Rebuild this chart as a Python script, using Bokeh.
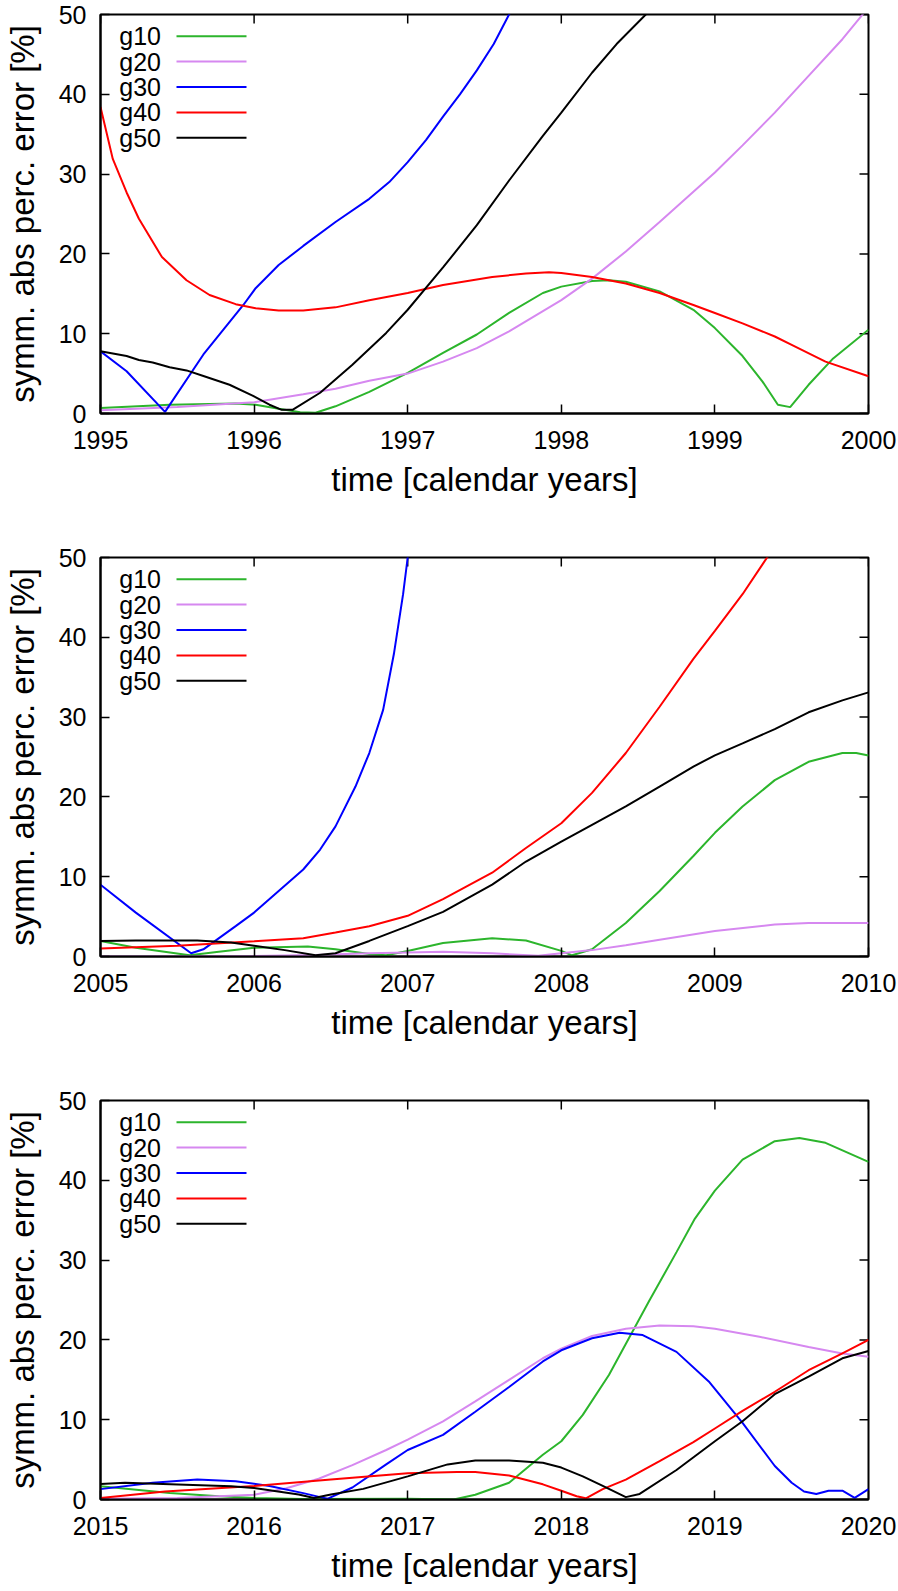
from bokeh.plotting import figure
from bokeh.models import FixedTicker, PrintfTickFormatter, Label, Range1d
from bokeh.layouts import column
from bokeh.embed import file_html
from bokeh.resources import INLINE

SERIES = ["g10", "g20", "g30", "g40", "g50"]
COLORS = ["#2cb52c", "#d688f0", "#0000ff", "#ff0000", "#000000"]
Y_TICKS = [0, 10, 20, 30, 40, 50]
X_LABEL = "time [calendar years]"
Y_LABEL = "symm. abs perc. error [%]"

# ---------------- panel 1 : 1995-2000 ----------------
P1_YEARS = [1995, 1996, 1997, 1998, 1999, 2000]
P1_G10_T = [1995.0, 1995.45, 1995.88, 1996.01, 1996.16, 1996.3, 1996.4, 1996.53, 1996.75, 1997.0, 1997.23,
            1997.45, 1997.66, 1997.88, 1998.0, 1998.2, 1998.31, 1998.42, 1998.64, 1998.86, 1999.0, 1999.18,
            1999.31, 1999.41, 1999.49, 1999.61, 1999.77, 2000.0]
P1_G10_V = [0.7, 1.1, 1.25, 1.1, 0.6, 0.15, 0.1, 0.9, 2.7, 5.1, 7.6, 9.9, 12.6, 15.1, 15.9, 16.6, 16.7, 16.5,
            15.3, 13.0, 10.7, 7.2, 4.0, 1.1, 0.8, 3.6, 6.9, 10.5]
P1_G20_T = [1995.0, 1995.5, 1996.0, 1996.32, 1996.53, 1996.75, 1997.0, 1997.23, 1997.45, 1997.66, 1998.0,
            1998.2, 1998.42, 1998.64, 1999.0, 1999.18, 1999.39, 1999.61, 1999.83, 2000.0]
P1_G20_V = [0.4, 0.8, 1.4, 2.4, 3.1, 4.1, 5.0, 6.5, 8.2, 10.3, 14.2, 16.9, 20.3, 24.0, 30.2, 33.6, 37.7,
            42.3, 46.9, 50.9]
P1_G30_T = [1995.0, 1995.17, 1995.42, 1995.67, 1995.93, 1996.01, 1996.16, 1996.32, 1996.53, 1996.75,
            1996.88, 1997.0, 1997.12, 1997.23, 1997.34, 1997.45, 1997.56, 1997.66, 1997.8]
P1_G30_V = [7.8, 5.3, 0.2, 7.4, 13.6, 15.7, 18.6, 21.0, 24.0, 26.9, 29.0, 31.5, 34.3, 37.2, 40.0, 43.0,
            46.3, 50.0, 55.0]
P1_G40_T = [1995.0, 1995.08, 1995.17, 1995.25, 1995.4, 1995.56, 1995.71, 1995.88, 1996.01, 1996.16, 1996.32,
            1996.53, 1996.75, 1997.0, 1997.23, 1997.55, 1997.77, 1997.92, 1998.0, 1998.2, 1998.42, 1998.64,
            1998.86, 1999.0, 1999.18, 1999.39, 1999.5, 1999.72, 2000.0]
P1_G40_V = [38.4, 31.9, 27.7, 24.4, 19.6, 16.7, 14.85, 13.7, 13.2, 12.9, 12.9, 13.3, 14.2, 15.1, 16.1, 17.1,
            17.55, 17.7, 17.6, 17.1, 16.3, 15.1, 13.6, 12.6, 11.3, 9.65, 8.6, 6.5, 4.66]
P1_G50_T = [1995.0, 1995.17, 1995.25, 1995.34, 1995.45, 1995.56, 1995.67, 1995.84, 1995.99, 1996.1, 1996.18,
            1996.25, 1996.43, 1996.64, 1996.86, 1997.0, 1997.23, 1997.45, 1997.66, 1997.88, 1998.0, 1998.2,
            1998.36, 1998.55, 1998.65]
P1_G50_V = [7.8, 7.2, 6.7, 6.4, 5.8, 5.4, 4.7, 3.6, 2.25, 1.1, 0.46, 0.46, 2.6, 6.1, 10.1, 13.0, 18.3, 23.6,
            29.2, 34.8, 37.7, 42.7, 46.3, 50.0, 52.0]

# ---------------- panel 2 : 2005-2010 ----------------
P2_YEARS = [2005, 2006, 2007, 2008, 2009, 2010]
P2_G10_T = [2005.0, 2005.23, 2005.58, 2005.77, 2006.0, 2006.35, 2006.53, 2006.75, 2006.86, 2007.0, 2007.23,
            2007.55, 2007.77, 2008.0, 2008.07, 2008.2, 2008.42, 2008.64, 2008.86, 2009.0, 2009.18, 2009.39,
            2009.61, 2009.83, 2009.92, 2010.0]
P2_G10_V = [1.95, 1.1, 0.15, 0.6, 1.1, 1.25, 0.9, 0.3, 0.15, 0.7, 1.7, 2.3, 2.0, 0.7, 0.15, 0.9, 4.2, 8.2,
            12.6, 15.5, 18.8, 22.1, 24.4, 25.5, 25.5, 25.2]
P2_G20_T = [2005.0, 2005.5, 2006.0, 2006.4, 2006.75, 2007.0, 2007.23, 2007.55, 2007.85, 2008.0, 2008.2,
            2008.42, 2008.64, 2009.0, 2009.39, 2009.61, 2010.0]
P2_G20_V = [0.0, 0.0, 0.05, 0.2, 0.4, 0.5, 0.6, 0.4, 0.1, 0.4, 0.8, 1.4, 2.1, 3.2, 4.0, 4.2, 4.2]
P2_G30_T = [2005.0, 2005.23, 2005.59, 2005.67, 2005.88, 2006.0, 2006.16, 2006.32, 2006.43, 2006.53, 2006.66,
            2006.75, 2006.84, 2006.91, 2006.97, 2007.0, 2007.05]
P2_G30_V = [9.0, 5.5, 0.4, 0.9, 3.8, 5.5, 8.2, 10.9, 13.4, 16.3, 21.3, 25.5, 30.9, 37.9, 45.4, 50.0, 58.0]
P2_G40_T = [2005.0, 2005.5, 2006.0, 2006.32, 2006.53, 2006.75, 2007.0, 2007.23, 2007.55, 2007.77, 2008.0,
            2008.2, 2008.42, 2008.64, 2008.86, 2009.0, 2009.18, 2009.34, 2009.45]
P2_G40_V = [1.0, 1.35, 1.9, 2.3, 3.0, 3.8, 5.1, 7.2, 10.5, 13.6, 16.7, 20.5, 25.5, 31.3, 37.3, 40.8, 45.4,
            50.0, 53.5]
P2_G50_T = [2005.0, 2005.23, 2005.63, 2005.85, 2006.0, 2006.2, 2006.4, 2006.53, 2006.75, 2007.0, 2007.23,
            2007.55, 2007.77, 2008.0, 2008.2, 2008.42, 2008.64, 2008.86, 2009.0, 2009.18, 2009.39, 2009.61,
            2009.83, 2010.0]
P2_G50_V = [1.95, 2.0, 2.0, 1.75, 1.35, 0.8, 0.15, 0.4, 1.95, 3.8, 5.6, 9.0, 11.9, 14.4, 16.5, 18.8, 21.3,
            23.8, 25.2, 26.7, 28.5, 30.6, 32.1, 33.1]

# ---------------- panel 3 : 2015-2020 ----------------
P3_YEARS = [2015, 2016, 2017, 2018, 2019, 2020]
P3_G10_T = [2015.0, 2015.45, 2015.77, 2016.0, 2016.32, 2017.0, 2017.3, 2017.44, 2017.66, 2017.88, 2018.0,
            2018.14, 2018.31, 2018.44, 2018.57, 2018.75, 2018.87, 2019.0, 2019.18, 2019.39, 2019.55, 2019.72,
            2020.0]
P3_G10_V = [1.65, 0.8, 0.4, 0.2, 0.05, 0.1, 0.0, 0.6, 2.1, 5.6, 7.3, 10.6, 15.6, 20.2, 24.8, 31.0, 35.2,
            38.7, 42.6, 44.9, 45.3, 44.7, 42.3]
P3_G20_T = [2015.0, 2015.5, 2016.0, 2016.21, 2016.42, 2016.64, 2016.86, 2017.0, 2017.23, 2017.44, 2017.66,
            2017.88, 2018.0, 2018.2, 2018.42, 2018.64, 2018.86, 2019.0, 2019.29, 2019.61, 2019.83, 2020.0]
P3_G20_V = [0.1, 0.2, 0.6, 1.4, 2.6, 4.3, 6.2, 7.5, 9.8, 12.3, 15.0, 17.7, 18.9, 20.5, 21.4, 21.8, 21.7,
            21.4, 20.4, 19.1, 18.3, 17.9]
P3_G30_T = [2015.0, 2015.34, 2015.63, 2015.88, 2016.1, 2016.32, 2016.43, 2016.48, 2016.64, 2016.86, 2017.0,
            2017.23, 2017.44, 2017.66, 2017.88, 2018.0, 2018.2, 2018.38, 2018.53, 2018.75, 2018.96, 2019.18,
            2019.39, 2019.5, 2019.58, 2019.66, 2019.74, 2019.83, 2019.91, 2020.0]
P3_G30_V = [1.3, 2.1, 2.5, 2.3, 1.7, 0.8, 0.3, 0.1, 1.5, 4.4, 6.2, 8.1, 11.0, 14.1, 17.3, 18.7, 20.2, 20.9,
            20.6, 18.5, 14.8, 9.6, 4.2, 2.1, 1.0, 0.7, 1.1, 1.1, 0.2, 1.3]
P3_G40_T = [2015.0, 2015.42, 2016.0, 2016.5, 2017.0, 2017.32, 2017.44, 2017.66, 2017.88, 2018.0, 2018.1,
            2018.16, 2018.27, 2018.42, 2018.64, 2018.86, 2019.0, 2019.18, 2019.39, 2019.61, 2019.83, 2020.0]
P3_G40_V = [0.2, 1.0, 1.7, 2.5, 3.3, 3.45, 3.45, 3.0, 1.9, 1.1, 0.4, 0.15, 1.3, 2.5, 4.8, 7.2, 8.9, 11.1,
            13.5, 16.2, 18.3, 20.0]
P3_G50_T = [2015.0, 2015.16, 2015.85, 2016.0, 2016.29, 2016.39, 2016.5, 2016.71, 2017.0, 2017.26, 2017.44,
            2017.66, 2017.88, 2018.0, 2018.14, 2018.27, 2018.42, 2018.51, 2018.75, 2019.0, 2019.18, 2019.39,
            2019.61, 2019.83, 2020.0]
P3_G50_V = [1.95, 2.1, 1.66, 1.45, 0.62, 0.2, 0.62, 1.33, 2.9, 4.4, 4.9, 4.9, 4.6, 4.0, 2.9, 1.7, 0.3, 0.7,
            3.7, 7.3, 9.8, 13.2, 15.4, 17.7, 18.6]

PANELS = [
    (P1_YEARS, [(P1_G10_T, P1_G10_V), (P1_G20_T, P1_G20_V), (P1_G30_T, P1_G30_V), (P1_G40_T, P1_G40_V), (P1_G50_T, P1_G50_V)]),
    (P2_YEARS, [(P2_G10_T, P2_G10_V), (P2_G20_T, P2_G20_V), (P2_G30_T, P2_G30_V), (P2_G40_T, P2_G40_V), (P2_G50_T, P2_G50_V)]),
    (P3_YEARS, [(P3_G10_T, P3_G10_V), (P3_G20_T, P3_G20_V), (P3_G30_T, P3_G30_V), (P3_G40_T, P3_G40_V), (P3_G50_T, P3_G50_V)]),
]

FONT = "Liberation Sans"
FW, FH = 768, 399
TICK_PX = 9


def style_axis(ax):
    ax.major_tick_in = TICK_PX
    ax.major_tick_out = 0
    ax.minor_tick_in = 0
    ax.minor_tick_out = 0
    ax.major_tick_line_width = 1.5
    ax.major_tick_line_color = "black"
    ax.axis_line_color = "black"
    ax.axis_line_width = 2
    ax.major_label_text_font = FONT
    ax.major_label_text_font_size = "25px"
    ax.major_label_text_color = "black"
    ax.axis_label_text_font = FONT
    ax.axis_label_text_font_size = "33px"
    ax.axis_label_text_font_style = "normal"
    ax.axis_label_text_color = "black"


def make_panel(years, data, bottom):
    t0, t1 = years[0], years[-1]
    p = figure(frame_width=FW, frame_height=FH,
               x_range=Range1d(t0, t1), y_range=Range1d(0, 50),
               output_backend="svg", toolbar_location=None,
               min_border_left=98, min_border_right=30, min_border_top=14,
               min_border_bottom=bottom,
               x_axis_label=X_LABEL, y_axis_label=Y_LABEL)
    p.grid.visible = False
    p.outline_line_color = "black"
    p.outline_line_width = 2
    p.background_fill_color = "white"
    p.border_fill_color = "white"

    p.xaxis.ticker = FixedTicker(ticks=years)
    p.xaxis.formatter = PrintfTickFormatter(format="%d")
    p.yaxis.ticker = FixedTicker(ticks=Y_TICKS)
    for ax in p.xaxis:
        style_axis(ax)
        ax.major_label_standoff = 17
        ax.axis_label_standoff = 9
    for ax in p.yaxis:
        style_axis(ax)
        ax.major_label_standoff = 14
        ax.axis_label_standoff = 15

    sx = (t1 - t0) / FW
    sy = 50.0 / FH

    # mirrored inward ticks on the top and right frame edges
    p.segment(x0=years, y0=[50] * len(years), x1=years, y1=[50 - TICK_PX * sy] * len(years),
              line_color="black", line_width=1.5)
    p.segment(x0=[t1] * len(Y_TICKS), y0=Y_TICKS, x1=[t1 - TICK_PX * sx] * len(Y_TICKS), y1=Y_TICKS,
              line_color="black", line_width=1.5)

    for (t, v), color in zip(data, COLORS):
        p.line(t, v, line_color=color, line_width=2)

    # gnuplot-style key: label on the left, sample line on the right
    for i, (name, color) in enumerate(zip(SERIES, COLORS)):
        ypix = 21.7 + 25.4 * i
        yv = 50 - ypix * sy
        p.add_layout(Label(x=t0 + 60.5 * sx, y=yv, text=name, text_align="right",
                           text_baseline="middle", text_font=FONT, text_font_size="25px",
                           text_color="black"))
        p.segment(x0=[t0 + 76 * sx], y0=[yv], x1=[t0 + 146 * sx], y1=[yv],
                  line_color=color, line_width=2)
    return p


p1 = make_panel(*PANELS[0], bottom=130)
p2 = make_panel(*PANELS[1], bottom=130)
p3 = make_panel(*PANELS[2], bottom=86)

layout = column(p1, p2, p3, spacing=0)
open("out.html", "w").write(file_html(layout, INLINE))
